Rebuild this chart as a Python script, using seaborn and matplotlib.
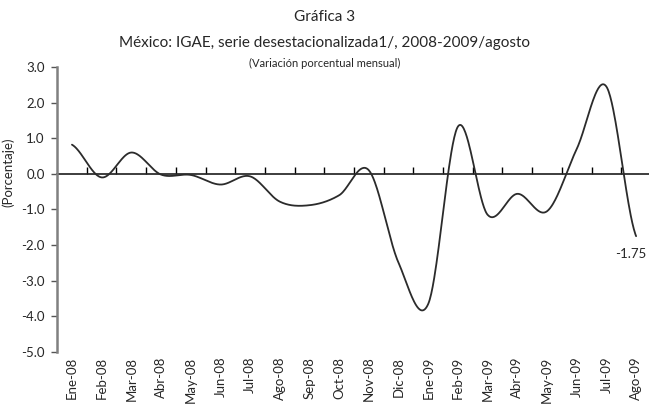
import numpy as np
import pandas as pd
import matplotlib
matplotlib.use("Agg")
import matplotlib.pyplot as plt
import seaborn as sns

# datos (variacion porcentual mensual)
meses = ["Ene-08", "Feb-08", "Mar-08", "Abr-08", "May-08", "Jun-08", "Jul-08",
         "Ago-08", "Sep-08", "Oct-08", "Nov-08", "Dic-08", "Ene-09", "Feb-09",
         "Mar-09", "Abr-09", "May-09", "Jun-09", "Jul-09", "Ago-09"]
variacion = [0.82, -0.10, 0.60, -0.02, -0.03, -0.30, -0.07,
             -0.78, -0.88, -0.60, 0.10, -2.50, -3.65, 1.33,
             -1.15, -0.56, -1.05, 0.70, 2.45, -1.75]
ticks_y = [3.0, 2.0, 1.0, 0.0, -1.0, -2.0, -3.0, -4.0, -5.0]


def curva_suave(y, pasos=40):
    """Linea suavizada tipo Excel (Bezier Catmull-Rom) entre los puntos."""
    y = np.asarray(y, dtype=float)
    n = len(y)
    xs, ys = [], []
    for i in range(n - 1):
        y0 = y[i - 1] if i > 0 else y[i]
        y3 = y[i + 2] if i + 2 < n else y[i + 1]
        p0, p3 = y[i], y[i + 1]
        c1 = p0 + (p3 - y0) / 6
        c2 = p3 - (y3 - p0) / 6
        t = np.linspace(0, 1, pasos, endpoint=(i == n - 2))
        b = ((1 - t) ** 3 * p0 + 3 * (1 - t) ** 2 * t * c1
             + 3 * (1 - t) * t ** 2 * c2 + t ** 3 * p3)
        xs.append(i + t)
        ys.append(b)
    return np.concatenate(xs), np.concatenate(ys)


sns.set_theme(style="white")
plt.rcParams['font.family'] = ['Lato', 'DejaVu Sans']

xs, ys = curva_suave(variacion)
df = pd.DataFrame({'x': xs, 'y': ys})

fig = plt.figure(figsize=(6.49, 4.04), dpi=100)
ax = fig.add_axes([0.088, 0.129, 0.915, 0.705])

sns.lineplot(data=df, x='x', y='y', ax=ax, color='#2b2b2b', linewidth=1.3,
             sort=False, estimator=None)

ax.set_xlim(-0.5, 19.5)
ax.set_ylim(-5.0, 3.0)
ax.set_yticks(ticks_y)
ax.set_yticklabels([f"{v:.1f}" for v in ticks_y], fontsize=9.5)
ax.set_xticks(range(len(meses)))
ax.set_xticklabels(meses, rotation=90, fontsize=9.5, va='top')
ax.tick_params(axis='x', length=0, pad=3.5)
ax.tick_params(axis='y', length=4, width=1, color='#555555', direction='out',
               left=True, pad=5)
ax.set_xlabel('')
ax.set_ylabel('(Porcentaje)', fontsize=9.5)
ax.yaxis.set_label_coords(-0.072, 0.63)

for lado in ['top', 'right', 'bottom']:
    ax.spines[lado].set_visible(False)
ax.spines['left'].set_color('#808080')
ax.spines['left'].set_linewidth(1.8)

# eje en cero con marcas entre categorias
eje0 = ax.secondary_xaxis(5.0 / 8.0)
eje0.set_xticks(np.arange(0.5, 19.0, 1.0))
eje0.set_xticklabels([])
eje0.tick_params(axis='x', length=5, width=1, color='black', direction='out')
eje0.spines['bottom'].set_color('black')
eje0.spines['bottom'].set_linewidth(1.0)

ax.annotate(f"{variacion[-1]:.2f}", xy=(len(meses) - 1, variacion[-1]),
            xytext=(-4, -13), textcoords='offset points', fontsize=9.5,
            ha='center', va='center')

fig.text(0.5, 0.958, "Gráfica 3", ha='center', va='center', fontsize=11)
fig.text(0.5, 0.893, "México: IGAE, serie desestacionalizada1/, 2008-2009/agosto",
         ha='center', va='center', fontsize=11)
fig.text(0.5, 0.843, "(Variación porcentual mensual)", ha='center', va='center',
         fontsize=8)

fig.savefig("out.png", dpi=100)
